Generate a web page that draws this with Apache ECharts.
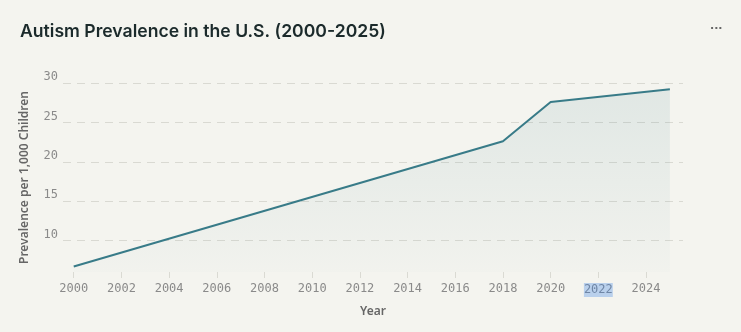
<!DOCTYPE html>
<html>
<head>
<meta charset="utf-8">
<script src="https://cdn.jsdelivr.net/npm/echarts@6/dist/echarts.min.js"></script>
<style>
html,body{margin:0;padding:0;background:#f4f4ef;}
#chart{width:741px;height:332px;}
</style>
</head>
<body>
<div id="chart"></div>
<script>
const years = [2000, 2018, 2020, 2025];
const prevalence = [6.7, 22.6, 27.6, 29.2];
const xTickLabels = [2000, 2002, 2004, 2006, 2008, 2010, 2012, 2014, 2016, 2018, 2020, 2022, 2024];
const yTickLabels = [10, 15, 20, 25, 30];

const chart = echarts.init(document.getElementById('chart'), null, {renderer: 'canvas'});
const mono = '"DejaVu Sans Mono", monospace';
chart.setOption({
  backgroundColor: '#f4f4ef',
  animation: false,
  title: {
    text: 'Autism Prevalence in the U.S. (2000-2025)',
    left: 15, top: 18,
    textStyle: {fontFamily: 'Inter', fontSize: 17.6, fontWeight: 600, color: '#1b2a2b'}
  },
  graphic: [{
    type: 'text', left: 710, top: 24,
    style: {text: '···', fill: '#666', font: 'bold 11px "DejaVu Sans"'}
  }],
  grid: {left: 63, right: 58, top: 83, bottom: 60},
  xAxis: {
    type: 'value',
    min: 1999.55, max: 2025.55,
    name: 'Year', nameLocation: 'middle', nameGap: 34,
    nameTextStyle: {fontFamily: 'Noto Sans', fontSize: 12, fontWeight: 600, color: '#666'},
    axisLine: {show: false},
    axisTick: {show: true, customValues: xTickLabels, length: 6, lineStyle: {color: '#dadad3'}},
    axisLabel: {
      customValues: xTickLabels, margin: 11,
      fontFamily: mono, fontSize: 12, color: '#8a8a8a',
      formatter: v => v === 2022 ? '{sel|' + v + '}' : String(v),
      rich: {sel: {fontFamily: mono, fontSize: 12, color: '#6f86a6', backgroundColor: '#b9d0ec', padding: [1, 0, 1, 0]}}
    },
    splitLine: {show: false}
  },
  yAxis: {
    type: 'value',
    min: 6, max: 30,
    name: 'Prevalence per 1,000 Children', nameLocation: 'middle', nameGap: 32,
    nameTextStyle: {fontFamily: 'Noto Sans', fontSize: 12, fontWeight: 600, color: '#666'},
    axisLine: {show: false},
    axisTick: {show: false, customValues: yTickLabels},
    axisLabel: {customValues: yTickLabels, margin: 5, verticalAlign: 'bottom', fontFamily: mono, fontSize: 12, color: '#8a8a8a'},
    splitLine: {show: true, lineStyle: {color: '#d9d9d2', type: [8, 6], width: 1}}
  },
  series: [{
    type: 'line',
    data: years.map((y, i) => [y, prevalence[i]]),
    showSymbol: false,
    lineStyle: {color: '#387b88', width: 2},
    itemStyle: {color: '#387b88'},
    areaStyle: {
      color: new echarts.graphic.LinearGradient(0, 0, 0, 1, [
        {offset: 0, color: 'rgba(56,123,136,0.15)'},
        {offset: 1, color: 'rgba(56,123,136,0.02)'}
      ])
    }
  }]
});
</script>
</body>
</html>
